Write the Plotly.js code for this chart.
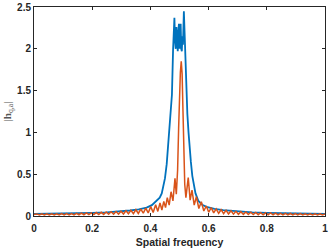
<!DOCTYPE html>
<html>
<head>
<meta charset="utf-8">
<script src="https://cdn.plot.ly/plotly-3.0.1.min.js"></script>
<style>html,body{margin:0;padding:0;background:#fff;}#chart{width:332px;height:249px;}</style>
</head>
<body>
<div id="chart"></div>
<script>
// Blue series
var blueFreq = [0, 0.05, 0.1, 0.15, 0.2, 0.25, 0.3, 0.33, 0.36, 0.387, 0.405, 0.422, 0.432, 0.439, 0.445, 0.45, 0.456, 0.4616, 0.466, 0.47, 0.474, 0.478, 0.4825, 0.4845, 0.487, 0.4895, 0.492, 0.494, 0.496, 0.498, 0.5, 0.502, 0.504, 0.506, 0.508, 0.51, 0.512, 0.515, 0.518, 0.521, 0.524, 0.527, 0.531, 0.534, 0.539, 0.544, 0.549, 0.555, 0.565, 0.578, 0.593, 0.62, 0.65, 0.7, 0.75, 0.8, 0.85, 0.9, 0.95, 1.0];
var blueVal = [0.024, 0.026, 0.028, 0.032, 0.037, 0.044, 0.056, 0.066, 0.08, 0.1, 0.13, 0.18, 0.22, 0.27, 0.35, 0.45, 0.62, 0.87, 1.05, 1.25, 1.45, 2.0, 2.37, 2.1, 2.0, 2.26, 2.05, 1.97, 2.2, 2.3, 2.0, 2.1, 2.3, 2.0, 1.97, 2.15, 2.05, 2.45, 2.1, 1.7, 1.45, 1.22, 1.0, 0.85, 0.65, 0.48, 0.36, 0.27, 0.18, 0.135, 0.11, 0.085, 0.07, 0.054, 0.044, 0.037, 0.032, 0.028, 0.026, 0.024];

// Orange series
var orangeFreq = [0.000, 0.010, 0.0185, 0.027, 0.0355, 0.044, 0.0525, 0.061, 0.0695, 0.078, 0.0865, 0.095, 0.1035, 0.112, 0.1205, 0.129, 0.1375, 0.146, 0.1545, 0.163, 0.1715, 0.180, 0.1885, 0.197, 0.2055, 0.214, 0.2225, 0.231, 0.2395, 0.248, 0.2565, 0.265, 0.2735, 0.282, 0.2905, 0.299, 0.3075, 0.316, 0.3245, 0.333, 0.3415, 0.350, 0.3585, 0.367, 0.3755, 0.384, 0.3925, 0.401, 0.4095, 0.418, 0.4255, 0.433, 0.4395, 0.446, 0.452, 0.458, 0.4645, 0.471, 0.4775, 0.4845, 0.489, 0.4935, 0.497, 0.500, 0.503, 0.506, 0.509, 0.512, 0.515, 0.518, 0.522, 0.530, 0.5365, 0.543, 0.5505, 0.558, 0.5665, 0.575, 0.5835, 0.592, 0.6005, 0.609, 0.6175, 0.626, 0.6345, 0.643, 0.6515, 0.660, 0.6685, 0.677, 0.6855, 0.694, 0.7025, 0.711, 0.7195, 0.728, 0.7365, 0.745, 0.7535, 0.762, 0.7705, 0.779, 0.7875, 0.796, 0.8045, 0.813, 0.8215, 0.830, 0.8385, 0.847, 0.8555, 0.864, 0.8725, 0.881, 0.8895, 0.898, 0.9065, 0.915, 0.9235, 0.932, 0.9405, 0.949, 0.9575, 0.966, 0.9745, 0.983, 0.9915, 1.000];
var orangeVal = [0.018, 0.025, 0.012, 0.025, 0.012, 0.026, 0.012, 0.026, 0.013, 0.027, 0.013, 0.028, 0.013, 0.029, 0.014, 0.030, 0.014, 0.032, 0.015, 0.034, 0.015, 0.036, 0.016, 0.038, 0.017, 0.041, 0.018, 0.044, 0.019, 0.047, 0.020, 0.050, 0.021, 0.054, 0.022, 0.058, 0.024, 0.063, 0.026, 0.068, 0.028, 0.075, 0.030, 0.083, 0.033, 0.095, 0.037, 0.112, 0.043, 0.135, 0.055, 0.155, 0.072, 0.175, 0.10, 0.22, 0.13, 0.29, 0.18, 0.45, 0.26, 0.55, 1.05, 1.45, 1.72, 1.85, 1.70, 1.25, 0.75, 0.38, 0.22, 0.46, 0.19, 0.31, 0.13, 0.23, 0.09, 0.17, 0.06, 0.12, 0.045, 0.10, 0.037, 0.085, 0.031, 0.075, 0.027, 0.068, 0.024, 0.062, 0.022, 0.056, 0.020, 0.052, 0.019, 0.048, 0.018, 0.045, 0.017, 0.042, 0.016, 0.040, 0.015, 0.038, 0.015, 0.036, 0.014, 0.034, 0.014, 0.032, 0.013, 0.031, 0.013, 0.030, 0.013, 0.029, 0.012, 0.028, 0.012, 0.027, 0.012, 0.026, 0.012, 0.025, 0.012, 0.025, 0.012, 0.024];

var xTicks = [0, 0.2, 0.4, 0.6, 0.8, 1];
var xTickText = ['0', '0.2', '0.4', '0.6', '0.8', '1'];
var yTicks = [0, 0.5, 1, 1.5, 2, 2.5];
var yTickText = ['0', '0.5', '1', '1.5', '2', '2.5'];

var traces = [
  {x: blueFreq, y: blueVal, type: 'scatter', mode: 'lines', line: {color: '#0072BD', width: 1.8}, hoverinfo: 'skip'},
  {x: orangeFreq, y: orangeVal, type: 'scatter', mode: 'lines', line: {color: '#D95319', width: 1.5}, hoverinfo: 'skip'}
];

var axisCommon = {
  showgrid: false, zeroline: false, showline: true, mirror: 'ticks',
  linecolor: '#262626', linewidth: 1, ticks: 'inside', ticklen: 3, tickcolor: '#262626',
  tickfont: {family: 'Liberation Sans, Arial, sans-serif', size: 10, color: '#262626', weight: 'bold'}
};

var layout = {
  width: 332, height: 249,
  margin: {l: 34, r: 7, t: 7, b: 33},
  paper_bgcolor: '#ffffff', plot_bgcolor: '#ffffff',
  showlegend: false,
  xaxis: Object.assign({}, axisCommon, {
    range: [0, 1], tickvals: xTicks, ticktext: xTickText, ticklabelstandoff: 3,
    title: {text: '<b>Spatial frequency</b>', font: {family: 'Liberation Sans, Arial, sans-serif', size: 10.5, color: '#262626'}, standoff: 5}
  }),
  yaxis: Object.assign({}, axisCommon, {
    range: [0, 2.5], tickvals: yTicks, ticktext: yTickText,
    title: {text: '|<b>h</b><sub>q,a</sub>|', font: {family: 'Liberation Serif, DejaVu Serif, serif', size: 11, color: '#555555'}, standoff: 3}
  })
};

Plotly.newPlot('chart', traces, layout, {staticPlot: true, displayModeBar: false});
</script>
</body>
</html>
